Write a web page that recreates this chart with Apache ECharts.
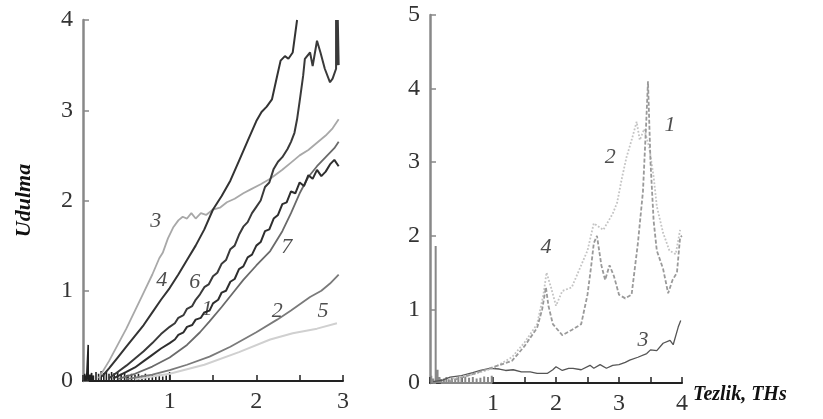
<!DOCTYPE html>
<html>
<head>
<meta charset="utf-8">
<script src="https://cdn.jsdelivr.net/npm/echarts@6/dist/echarts.min.js"></script>
<style>
  html, body { margin: 0; background: #fff; }
  #chart { width: 823px; height: 419px; }
</style>
</head>
<body>
<div id="chart"></div>
<script>
// left panel curves, [x, y]
var curve3L = [[0.18,0.03],[0.3,0.22],[0.4,0.4],[0.5,0.58],[0.6,0.78],[0.7,0.98],[0.8,1.18],[0.88,1.36],[0.92,1.42],[0.98,1.58],[1.04,1.7],[1.1,1.78],[1.15,1.82],[1.2,1.8],[1.25,1.86],[1.3,1.8],[1.36,1.86],[1.42,1.84],[1.5,1.9],[1.58,1.92],[1.66,1.98],[1.75,2.02],[1.85,2.08],[1.93,2.12],[2.05,2.18],[2.16,2.24],[2.3,2.34],[2.4,2.42],[2.5,2.5],[2.6,2.56],[2.7,2.64],[2.8,2.72],[2.88,2.8],[2.95,2.9]];
var curve4L = [[0.22,0.05],[0.3,0.14],[0.4,0.26],[0.5,0.38],[0.6,0.5],[0.7,0.62],[0.8,0.76],[0.9,0.9],[1.0,1.03],[1.1,1.18],[1.2,1.34],[1.3,1.5],[1.4,1.68],[1.5,1.9],[1.6,2.05],[1.7,2.22],[1.8,2.44],[1.9,2.66],[2.0,2.88],[2.06,2.98],[2.12,3.04],[2.18,3.12],[2.24,3.38],[2.28,3.55],[2.33,3.6],[2.37,3.57],[2.42,3.64],[2.47,4.0]];
var curve6L = [[0.3,0.03],[0.4,0.1],[0.5,0.17],[0.6,0.25],[0.7,0.33],[0.8,0.42],[0.9,0.52],[1.0,0.6],[1.06,0.64],[1.1,0.7],[1.16,0.73],[1.2,0.8],[1.26,0.83],[1.3,0.9],[1.35,0.96],[1.4,1.04],[1.45,1.07],[1.5,1.16],[1.55,1.2],[1.6,1.3],[1.65,1.34],[1.7,1.46],[1.75,1.5],[1.8,1.62],[1.85,1.71],[1.9,1.76],[1.95,1.86],[2.0,1.93],[2.05,2.0],[2.1,2.15],[2.15,2.2],[2.2,2.35],[2.25,2.43],[2.3,2.48],[2.36,2.57],[2.4,2.65],[2.44,2.75],[2.47,2.9],[2.5,3.1],[2.54,3.38],[2.56,3.57],[2.62,3.64],[2.65,3.49],[2.7,3.77],[2.74,3.64],[2.79,3.46],[2.85,3.31],[2.88,3.35],[2.92,3.46],[2.92,4.0],[2.93,3.5],[2.94,4.0],[2.95,3.5]];
var curve1L = [[0.35,0.03],[0.5,0.1],[0.6,0.15],[0.7,0.22],[0.8,0.29],[0.9,0.36],[1.0,0.42],[1.06,0.46],[1.1,0.51],[1.16,0.54],[1.2,0.6],[1.26,0.62],[1.3,0.68],[1.36,0.7],[1.4,0.76],[1.46,0.78],[1.5,0.86],[1.56,0.9],[1.6,0.98],[1.65,1.0],[1.7,1.1],[1.75,1.13],[1.8,1.24],[1.85,1.27],[1.9,1.37],[1.95,1.4],[2.0,1.5],[2.05,1.54],[2.1,1.66],[2.15,1.68],[2.2,1.8],[2.25,1.84],[2.3,1.96],[2.35,1.98],[2.4,2.1],[2.45,2.08],[2.5,2.2],[2.55,2.16],[2.6,2.28],[2.65,2.24],[2.7,2.34],[2.75,2.27],[2.8,2.32],[2.85,2.4],[2.9,2.45],[2.95,2.38]];
var curve7L = [[0.4,0.02],[0.6,0.08],[0.8,0.16],[1.0,0.26],[1.2,0.4],[1.35,0.54],[1.46,0.66],[1.6,0.82],[1.75,1.0],[1.85,1.12],[2.0,1.28],[2.16,1.44],[2.3,1.66],[2.4,1.86],[2.5,2.08],[2.6,2.26],[2.7,2.38],[2.8,2.48],[2.9,2.58],[2.95,2.65]];
var curve2L = [[0.5,0.02],[0.8,0.07],[1.0,0.12],[1.2,0.18],[1.46,0.27],[1.7,0.38],[2.0,0.54],[2.24,0.68],[2.4,0.78],[2.62,0.93],[2.75,1.0],[2.85,1.08],[2.95,1.18]];
var curve5L = [[0.6,0.02],[1.0,0.08],[1.4,0.18],[1.8,0.32],[2.16,0.46],[2.42,0.53],[2.7,0.58],[2.93,0.64]];
var spikeXL = [0.02,0.04,0.06,0.08,0.1,0.12,0.15,0.18,0.21,0.24,0.27,0.3,0.33,0.36,0.4,0.44,0.48,0.52,0.56,0.6,0.64,0.68,0.72,0.76,0.8,0.84,0.88,0.92,0.96,1.0];
var spikeHL = [0.08,0.06,0.4,0.07,0.09,0.06,0.1,0.08,0.11,0.09,0.1,0.08,0.1,0.09,0.1,0.08,0.09,0.07,0.08,0.07,0.08,0.06,0.08,0.06,0.07,0.06,0.07,0.05,0.06,0.1];
var labelsL = [['3',0.84,1.77],['4',0.91,1.12],['6',1.29,1.1],['1',1.43,0.79],['7',2.35,1.48],['2',2.24,0.77],['5',2.77,0.77]];

// right panel curves
var curve1R = [[0.3,0.02],[0.6,0.1],[0.95,0.2],[1.3,0.3],[1.5,0.5],[1.7,0.75],[1.78,1.0],[1.84,1.3],[1.88,1.05],[1.95,0.8],[2.1,0.65],[2.25,0.72],[2.4,0.8],[2.5,1.2],[2.56,1.6],[2.6,1.9],[2.65,2.0],[2.72,1.6],[2.78,1.4],[2.85,1.6],[2.92,1.45],[3.0,1.2],[3.1,1.15],[3.2,1.2],[3.3,1.9],[3.38,2.6],[3.43,3.5],[3.46,4.1],[3.5,3.0],[3.55,2.2],[3.6,1.8],[3.7,1.55],[3.78,1.22],[3.85,1.4],[3.92,1.5],[3.97,1.98],[4.0,2.0]];
var curve2R = [[0.3,0.05],[0.7,0.12],[1.0,0.2],[1.3,0.35],[1.5,0.55],[1.7,0.8],[1.8,1.2],[1.85,1.5],[1.92,1.3],[2.0,1.05],[2.1,1.25],[2.25,1.3],[2.4,1.6],[2.5,1.8],[2.6,2.17],[2.75,2.08],[2.9,2.3],[2.97,2.45],[3.05,2.8],[3.12,3.07],[3.2,3.3],[3.28,3.55],[3.33,3.3],[3.4,3.45],[3.48,3.2],[3.55,2.8],[3.6,2.4],[3.7,2.04],[3.8,1.8],[3.9,1.75],[3.97,2.08]];
var curve3R = [[0.05,0.02],[0.2,0.04],[0.32,0.08],[0.5,0.1],[0.68,0.14],[0.8,0.17],[0.95,0.2],[1.1,0.19],[1.2,0.17],[1.32,0.18],[1.45,0.15],[1.59,0.15],[1.7,0.13],[1.86,0.13],[1.95,0.18],[2.0,0.22],[2.1,0.17],[2.2,0.2],[2.27,0.2],[2.4,0.18],[2.54,0.24],[2.6,0.2],[2.7,0.25],[2.8,0.2],[2.9,0.24],[3.0,0.25],[3.1,0.28],[3.17,0.31],[3.3,0.35],[3.44,0.4],[3.5,0.45],[3.6,0.44],[3.7,0.54],[3.81,0.58],[3.86,0.52],[3.94,0.76],[3.98,0.85]];
var spikeXR = [0.02,0.05,0.09,0.12,0.15,0.18,0.22,0.26,0.3,0.35,0.4,0.45,0.5,0.56,0.62,0.68,0.74,0.8,0.86,0.92,0.98];
var spikeHR = [0.1,0.06,1.86,0.18,0.08,0.05,0.06,0.08,0.05,0.07,0.06,0.08,0.06,0.09,0.07,0.08,0.06,0.07,0.09,0.08,0.1];
var labelsR = [['4',1.84,1.85],['2',2.86,3.07],['1',3.81,3.5],['3',3.38,0.58]];

var serif = 'Liberation Serif';

function spikes(xs, hs) {
  var out = [];
  for (var i = 0; i < xs.length; i++) out.push([xs[i], 0], [xs[i], hs[i]], [xs[i], 0]);
  return out;
}

function line(data, color, width, idx, type) {
  return {
    type: 'line', data: data, xAxisIndex: idx, yAxisIndex: idx,
    showSymbol: false, symbol: 'none', silent: true,
    lineStyle: { color: color, width: width, type: type || 'solid' }
  };
}

function tags(list, idx) {
  return {
    type: 'scatter', xAxisIndex: idx, yAxisIndex: idx, symbolSize: 0, silent: true, z: 5,
    data: list.map(function (l) { return { value: [l[1], l[2]], name: l[0] }; }),
    label: {
      show: true, position: 'inside', formatter: '{b}',
      fontFamily: serif, fontStyle: 'italic', fontSize: 22, color: '#222'
    }
  };
}

function xAx(idx, max) {
  return {
    gridIndex: idx, type: 'value', min: 0, max: max, interval: 0.5,
    axisLine: { onZero: false, lineStyle: { color: '#222', width: 2 } },
    axisTick: { inside: true, length: 6, lineStyle: { color: '#222', width: 1.5 } },
    axisLabel: {
      margin: 9, fontFamily: serif, fontSize: 24, color: '#333',
      formatter: function (v) { return (v > 0 && v % 1 === 0) ? String(v) : ''; }
    },
    splitLine: { show: false }
  };
}

function yAx(idx, max) {
  return {
    gridIndex: idx, type: 'value', min: 0, max: max, interval: 1,
    axisLine: { show: true, lineStyle: { color: '#888', width: 2.5 } },
    axisTick: { show: true, inside: true, length: 6, lineStyle: { color: '#888', width: 1.5 } },
    axisLabel: { margin: 10, fontFamily: serif, fontSize: 24, color: '#333' },
    splitLine: { show: false }
  };
}

var chart = echarts.init(document.getElementById('chart'));

var yLeft = yAx(0, 4);
yLeft.name = 'Udulma';
yLeft.nameLocation = 'middle';
yLeft.nameGap = 48;
yLeft.nameRotate = 90;
yLeft.nameTextStyle = { fontFamily: serif, fontStyle: 'italic', fontWeight: 'bold', fontSize: 22, color: '#111' };

chart.setOption({
  animation: false,
  backgroundColor: '#fff',
  grid: [
    { left: 83, top: 20, width: 260, height: 361 },
    { left: 430, top: 15, width: 252, height: 368 }
  ],
  xAxis: [xAx(0, 3), xAx(1, 4)],
  yAxis: [yLeft, yAx(1, 5)],
  graphic: [{
    type: 'text', left: 693, top: 385,
    style: { text: 'Tezlik, THs', fontFamily: serif, fontStyle: 'italic', fontWeight: 'bold', fontSize: 20, fill: '#111' }
  }],
  series: [
    line(spikes(spikeXL, spikeHL), '#222', 1.6, 0),
    line(curve5L, '#d0d0d0', 2, 0),
    line(curve2L, '#7a7a7a', 1.8, 0),
    line(curve7L, '#6a6a6a', 1.8, 0),
    line(curve3L, '#a8a8a8', 1.8, 0),
    line(curve1L, '#2e2e2e', 2, 0),
    line(curve6L, '#3a3a3a', 2, 0),
    line(curve4L, '#333', 2, 0),
    tags(labelsL, 0),
    line(spikes(spikeXR, spikeHR), '#888', 2, 1),
    line(curve3R, '#555', 1.3, 1),
    line(curve2R, '#c4c4c4', 1.8, 1, 'dotted'),
    line(curve1R, '#9a9a9a', 1.8, 1, [4, 2]),
    tags(labelsR, 1)
  ]
});
</script>
</body>
</html>
